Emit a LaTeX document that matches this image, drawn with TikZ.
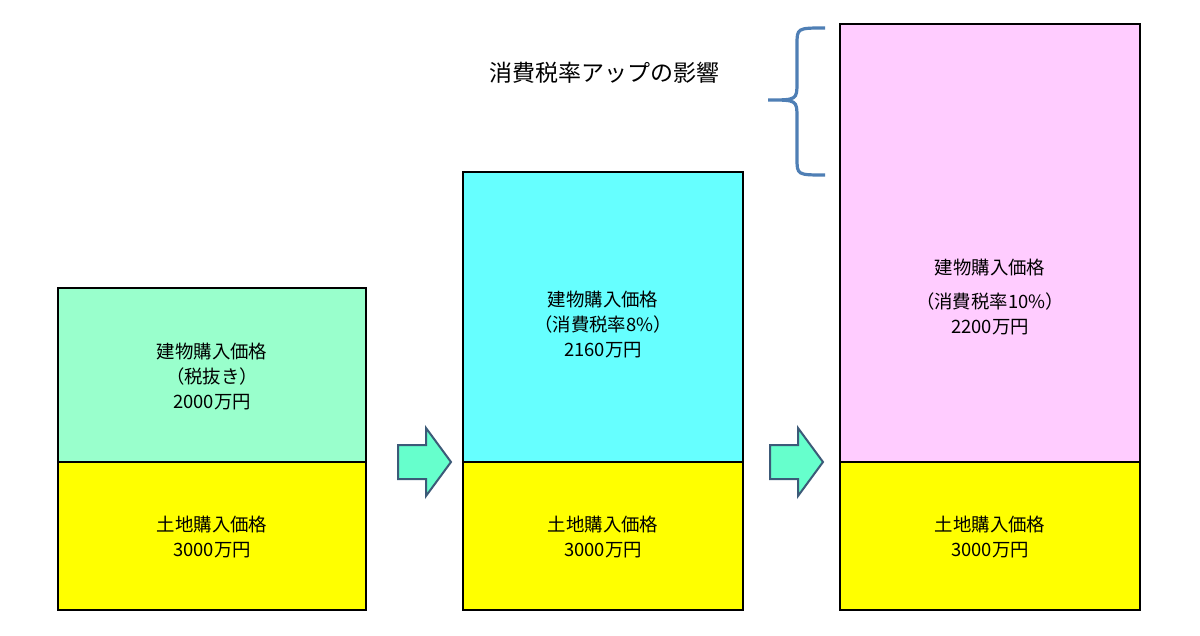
\documentclass[tikz,border=0pt]{standalone}
\usepackage{fontspec}
\newfontfamily\jp{Noto Sans CJK JP}
\begin{document}
\begin{tikzpicture}[x=0.5pt,y=-0.5pt,
  box/.style={draw=black,line width=0.8pt},
  lbl/.style={font=\jp\fontsize{9.2}{12.5}\selectfont,align=center,text=black},
  arr/.style={draw={rgb,255:red,60;green,90;blue,120},fill={rgb,255:red,102;green,255;blue,204},line width=1pt,line join=miter}]
\useasboundingbox (0,0) rectangle (1200,636);
\fill[white] (0,0) rectangle (1200,636);
% boxes
\draw[box,fill={rgb,255:red,153;green,255;blue,204}] (58,288) rectangle (366,462);
\draw[box,fill={rgb,255:red,255;green,255;blue,0}] (58,462) rectangle (366,610);
\draw[box,fill={rgb,255:red,102;green,255;blue,255}] (463,172) rectangle (743,462);
\draw[box,fill={rgb,255:red,255;green,255;blue,0}] (463,462) rectangle (743,610);
\draw[box,fill={rgb,255:red,255;green,204;blue,255}] (840,24) rectangle (1140,462);
\draw[box,fill={rgb,255:red,255;green,255;blue,0}] (840,462) rectangle (1140,610);
% labels
\node[lbl] (b1) at (212,377) {建物購入価格\\（税抜き）\\2000万円};
\node[lbl] (l1) at (212,537) {土地購入価格\\3000万円};
\node[lbl] (b2) at (603,325) {建物購入価格\\（消費税率8\%）\\2160万円};
\node[lbl] (l2) at (603,537) {土地購入価格\\3000万円};
\node[lbl] (b3t) at (990,268) {建物購入価格};
\node[lbl] (b3) at (990,314) {（消費税率10\%）\\2200万円};
\node[lbl] (l3) at (990,537) {土地購入価格\\3000万円};
\node[lbl,font=\jp\fontsize{11.5}{14}\selectfont] (tax) at (604,73) {消費税率アップの影響};
% arrows
\draw[arr] (398,445) -- (426,445) -- (426,428) -- (451,462) -- (426,496) -- (426,479) -- (398,479) -- cycle;
\draw[arr] (770,445) -- (798,445) -- (798,428) -- (823,462) -- (798,496) -- (798,479) -- (770,479) -- cycle;
% brace
\draw[line width=1.6pt,color={rgb,255:red,79;green,127;blue,181}]
  (825,28) .. controls (797,28) .. (797,45) -- (797,82)
  .. controls (797,100) .. (768,100) .. controls (797,100) .. (797,118)
  -- (797,158) .. controls (797,175) .. (825,175);
\end{tikzpicture}
\end{document}
